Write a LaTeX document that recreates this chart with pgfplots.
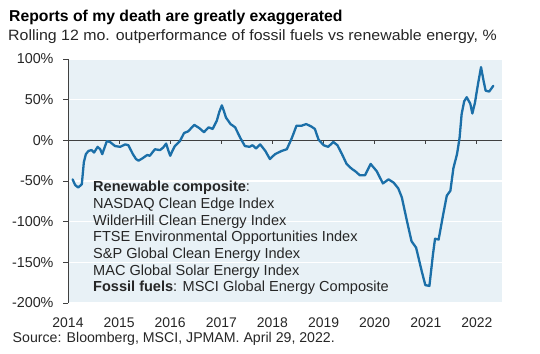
\documentclass[border=0pt]{standalone}
\usepackage{fontspec}
\setmainfont{Liberation Sans}
\usepackage{graphicx}
\usepackage{pgfplots}
\pgfplotsset{compat=1.18}
\definecolor{bgblue}{RGB}{232,241,246}
\definecolor{linecol}{RGB}{27,111,168}
\definecolor{axgray}{RGB}{64,64,64}
\definecolor{txt}{RGB}{38,38,38}
\begin{document}
\begin{tikzpicture}
\useasboundingbox (0bp,0bp) rectangle (540bp,354bp);
\node[anchor=base west,inner sep=0,font=\fontsize{15.8}{18}\selectfont\bfseries,text=black] at (9bp,332.5bp) {Reports of my death are greatly exaggerated};
\node[anchor=base west,inner sep=0,font=\fontsize{15}{16}\selectfont,text=txt] at (8bp,313.5bp) {\scalebox{1.065}[1]{Rolling 12 mo. outperformance of fossil fuels vs renewable energy, \%}};
\node[anchor=base west,inner sep=0,font=\fontsize{14.2}{16}\selectfont,text=txt] at (12.5bp,11.5bp) {Source: Bloomberg, MSCI, JPMAM. April 29, 2022.};
\begin{axis}[
  at={(68bp,51bp)}, anchor=south west,
  scale only axis, width=434bp, height=244bp,
  xmin=2014, xmax=2022.49, ymin=-200, ymax=100,
  axis background/.style={fill=bgblue},
  axis lines*=left,
  x axis line style={draw=none},
  y axis line style={draw=axgray, line width=0.9bp},
  xtick={2014,2015,2016,2017,2018,2019,2020,2021,2022},
  xticklabels={2014,2015,2016,2017,2018,2019,2020,2021,2022},
  ytick={-200,-150,-100,-50,0,50,100},
  yticklabels={-200\%,-150\%,-100\%,-50\%,0\%,50\%,100\%},
  x tick label style={font=\fontsize{14}{16}\selectfont, text=txt, yshift=-6bp},
  y tick label style={font=\fontsize{14.4}{16}\selectfont, text=txt, xshift=-6bp},
  x tick style={draw=none},
  major tick length=5bp,
  tick align=outside,
  y tick style={draw=axgray, line width=0.9bp},
  ymajorgrids, major grid style={draw=white, line width=1.2bp},
  clip=false,
]
\draw[axgray, line width=1bp] (axis cs:2014,0) -- (axis cs:2022.49,0);
\pgfplotsinvokeforeach{2015,2016,2017,2018,2019,2020,2021,2022}{
  \draw[axgray, line width=1bp] (axis cs:#1,0) -- ++(0bp,-4bp);
}
\addplot[color=linecol, line width=2.3bp, line join=round, line cap=round] coordinates {
(2014.09,-48) (2014.14,-55) (2014.20,-58) (2014.27,-54) (2014.31,-27) (2014.35,-17)
(2014.40,-13) (2014.46,-12) (2014.51,-15) (2014.58,-8) (2014.63,-11) (2014.67,-17)
(2014.72,-8) (2014.76,-1) (2014.82,-2) (2014.92,-7) (2015.02,-8) (2015.12,-5)
(2015.18,-6) (2015.27,-17) (2015.33,-23) (2015.38,-25) (2015.46,-22) (2015.55,-18)
(2015.60,-19) (2015.70,-11) (2015.80,-12) (2015.86,-9) (2015.92,-4) (2015.96,-12)
(2016.00,-19) (2016.05,-12) (2016.09,-7) (2016.19,-1) (2016.27,9) (2016.35,11)
(2016.47,19) (2016.57,15) (2016.66,10) (2016.75,16) (2016.83,14) (2016.91,24)
(2016.96,35) (2017.01,43) (2017.05,36) (2017.09,28) (2017.18,20) (2017.27,16)
(2017.37,3) (2017.46,-7) (2017.55,-8) (2017.61,-6) (2017.68,-10) (2017.76,-5)
(2017.86,-13) (2017.95,-23) (2018.05,-17) (2018.18,-13) (2018.28,-11) (2018.38,3)
(2018.47,18) (2018.57,18) (2018.66,20) (2018.76,17) (2018.83,14) (2018.90,1)
(2019.00,-6) (2019.09,-8) (2019.19,-2) (2019.27,-6) (2019.36,-17) (2019.45,-29)
(2019.55,-35) (2019.62,-38) (2019.71,-43) (2019.81,-43) (2019.92,-29) (2020.04,-38)
(2020.16,-53) (2020.27,-48) (2020.37,-52) (2020.46,-59) (2020.53,-70) (2020.63,-99)
(2020.72,-124) (2020.81,-132) (2020.92,-161) (2020.99,-178) (2021.07,-179) (2021.14,-140)
(2021.18,-121) (2021.25,-122) (2021.34,-91) (2021.41,-68) (2021.48,-62) (2021.54,-34)
(2021.61,-17) (2021.66,3) (2021.70,32) (2021.75,48) (2021.80,53) (2021.87,45)
(2021.91,33) (2021.96,46) (2022.02,69) (2022.08,90) (2022.13,73) (2022.17,61)
(2022.24,60) (2022.32,67)
};
\end{axis}
\begin{scope}[every node/.style={anchor=base west,inner sep=0,font=\fontsize{14.6}{16}\selectfont,text=txt}]
\node at (93bp,162bp) {\textbf{Renewable composite}:};
\node at (93bp,145.3bp) {NASDAQ Clean Edge Index};
\node at (93bp,128.7bp) {WilderHill Clean Energy Index};
\node at (93bp,112bp) {FTSE Environmental Opportunities Index};
\node at (93bp,95.3bp) {S\&P Global Clean Energy Index};
\node at (93bp,78.7bp) {MAC Global Solar Energy Index};
\node at (93bp,62bp) {\textbf{Fossil fuels}: MSCI Global Energy Composite};
\end{scope}
\end{tikzpicture}
\end{document}
